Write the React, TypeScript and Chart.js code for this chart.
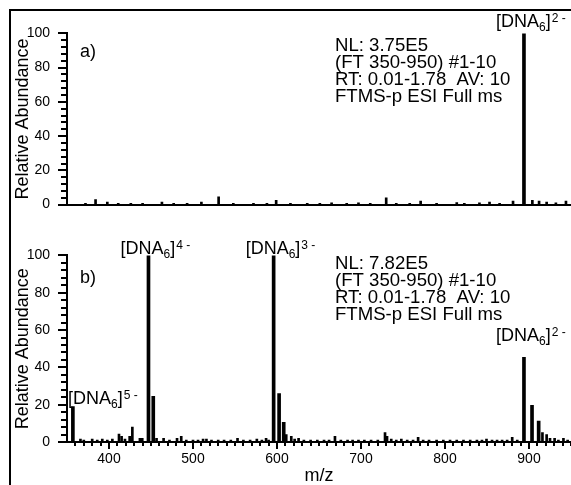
import React, { useEffect, useRef } from 'react';
import { Chart, registerables } from 'chart.js';

Chart.register(...registerables);

const FAM = '"Liberation Sans", Arial, Helvetica, sans-serif';

// axis ranges and ticks
const MZ_MIN = 350;
const MZ_MAX = 950;
const xMajorTicks = [400, 500, 600, 700, 800, 900];
const yMajorTicks = [0, 20, 40, 60, 80, 100];

// ---- panel a) ----
const aMainMz = [894];
const aMainAb = [100];
const aMinorMz = [372, 384, 398, 411, 426, 440, 463, 477, 493, 510, 530.5, 548, 572, 588, 599, 616, 636, 651, 665, 683, 697, 711, 730, 742, 758, 771, 790, 814, 823, 841, 853, 865, 881, 904, 912, 921, 932, 944];
const aMinorAb = [0.8, 3, 1.5, 0.8, 0.8, 0.8, 1.5, 0.8, 0.8, 1.5, 4.5, 0.8, 0.8, 0.8, 2.5, 0.8, 0.8, 0.8, 1, 0.8, 1, 0.8, 4, 0.8, 0.8, 2, 0.8, 1.2, 0.8, 1, 1.5, 0.8, 2, 2.5, 2, 1.5, 1, 2];
const aIonMz = [894];
const aIonCharge = ['2'];
const aIonLabelAb = [103.5];
const aInfo = ['NL: 3.75E5', '(FT 350-950) #1-10', 'RT: 0.01-1.78  AV: 10', 'FTMS-p ESI Full ms'];

// ---- panel b) ----
const bMainMz = [357, 447, 452.7, 596, 602.5, 608, 894, 903.6, 911.5];
const bMainAb = [19, 100, 24.5, 100, 26, 10.5, 45.4, 19.7, 11.2];
const bMinorMz = [366, 370, 380, 386, 392, 398, 404, 411.9, 415, 419, 424.6, 427.8, 436.8, 439.6, 456.6, 465, 472, 481, 486, 492, 500, 506, 512, 516, 522, 530, 537, 545, 553, 560, 568, 576, 582, 587, 590, 611, 617, 621, 625.7, 632, 640, 648, 656, 662, 669, 676, 684, 690, 697, 704, 712, 720, 728.6, 731, 736, 742, 748, 755, 762, 768, 774, 781, 790, 798, 806, 814, 822, 830, 838, 844, 849.4, 856, 862, 868, 874, 880, 886, 916, 921, 925, 930.5, 935, 941, 946];
const bMinorAb = [1.5, 1, 1.5, 1, 1.5, 1, 1.5, 4.2, 3, 1.5, 3, 8, 2, 2, 2, 2, 1, 2, 3, 1, 1, 1, 1.5, 1.5, 1, 1, 1, 1, 2, 1, 1, 1.5, 1, 2, 1, 4, 3, 1.5, 2, 1, 1, 1, 1, 1, 3, 1, 1, 1, 1, 1, 1, 1, 5, 3, 1.5, 1, 1.5, 1, 1, 2.5, 1, 1, 1, 1, 1, 1, 1, 1, 1, 1, 1.5, 1, 1, 1, 1, 2.5, 1, 5, 4, 2, 2, 1, 2, 1];
const bIonMz = [357, 447, 596, 894];
const bIonCharge = ['5', '4', '3', '2'];
const bIonLabelAb = [20.5, 100.5, 100.5, 54];
const bInfo = ['NL: 7.82E5', '(FT 350-950) #1-10', 'RT: 0.01-1.78  AV: 10', 'FTMS-p ESI Full ms'];

const annotPlugin = {
  id: 'annot',
  afterDraw(chart: any, _args: any, o: any) {
    const ctx = chart.ctx;
    const { left, top, bottom } = chart.chartArea;
    const xs = chart.scales.x;
    const ys = chart.scales.y;
    ctx.save();
    ctx.fillStyle = '#000';
    ctx.strokeStyle = '#000';
    ctx.lineWidth = 2;
    // y ticks (major every 20, minor every 4)
    for (let v = 0; v <= 100; v += 4) {
      const py = Math.round(ys.getPixelForValue(v));
      const len = v % 20 === 0 ? 9 : 6;
      ctx.beginPath();
      ctx.moveTo(left - len, py);
      ctx.lineTo(left, py);
      ctx.stroke();
    }
    if (o.showX) {
      for (let m = 360; m <= MZ_MAX; m += 10) {
        const px = Math.round(xs.getPixelForValue(m));
        const len = m % 100 === 0 ? 7 : 4;
        ctx.beginPath();
        ctx.moveTo(px, bottom);
        ctx.lineTo(px, bottom + len);
        ctx.stroke();
      }
    }
    ctx.textBaseline = 'alphabetic';
    ctx.textAlign = 'left';
    ctx.font = `18px ${FAM}`;
    ctx.fillText(o.tag, left + 13, top + o.tagDy);
    ctx.font = `18.6px ${FAM}`;
    o.info.forEach((t: string, i: number) => {
      ctx.fillText(t, left + 268, top + o.infoDy + i * 17);
    });
    o.ionMz.forEach((mz: number, i: number) => {
      let x = xs.getPixelForValue(mz) - 28;
      x = Math.max(x, left + 1);
      const y = ys.getPixelForValue(o.ionLabelAb[i]);
      ctx.font = `18px ${FAM}`;
      ctx.fillText('[DNA', x, y);
      let cx = x + ctx.measureText('[DNA').width;
      ctx.font = `12px ${FAM}`;
      ctx.fillText('6', cx, y + 4);
      cx += ctx.measureText('6').width;
      ctx.font = `18px ${FAM}`;
      ctx.fillText(']', cx, y);
      cx += ctx.measureText(']').width;
      ctx.font = `12px ${FAM}`;
      ctx.fillText(o.ionCharge[i] + ' -', cx + 1, y - 5);
    });
    ctx.restore();
  },
};

function makeChart(canvas: HTMLCanvasElement, p: any) {
  return new Chart(canvas, {
    type: 'bar',
    data: {
      datasets: [
        {
          data: p.mainMz.map((m: number, i: number) => ({ x: m, y: p.mainAb[i] })),
          backgroundColor: '#000',
          borderWidth: 0,
          barThickness: 3,
          grouped: false,
        } as any,
        {
          data: p.minorMz.map((m: number, i: number) => ({ x: m, y: p.minorAb[i] })),
          backgroundColor: '#000',
          borderWidth: 0,
          barThickness: 2,
          grouped: false,
        } as any,
      ],
    },
    options: {
      animation: false,
      responsive: false,
      devicePixelRatio: 1,
      layout: { padding: { top: p.padTop, left: 0, right: 0, bottom: 0 } },
      plugins: {
        legend: { display: false },
        tooltip: { enabled: false },
        annot: {
          showX: p.showX,
          tag: p.tag,
          tagDy: p.tagDy,
          info: p.info,
          infoDy: p.infoDy,
          ionMz: p.ionMz,
          ionCharge: p.ionCharge,
          ionLabelAb: p.ionLabelAb,
        },
      } as any,
      scales: {
        x: {
          type: 'linear',
          min: MZ_MIN,
          max: MZ_MAX,
          offset: false,
          grid: { display: false, drawTicks: false, drawOnChartArea: false },
          border: { display: true, color: '#000', width: 2 },
          ticks: {
            display: p.showX,
            color: '#000',
            font: { size: 14, family: FAM },
            padding: 9,
            maxRotation: 0,
            autoSkip: false,
            callback: (v: any) => String(v),
          },
          afterBuildTicks: (s: any) => {
            s.ticks = xMajorTicks.map((v) => ({ value: v }));
          },
          title: {
            display: p.showX,
            text: 'm/z',
            color: '#000',
            font: { size: 18, family: FAM },
            padding: { top: 0, bottom: 1 },
          },
          afterFit: (s: any) => {
            s.height = p.xHeight;
          },
        } as any,
        y: {
          min: 0,
          max: 100,
          grid: { display: false, drawTicks: false, drawOnChartArea: false },
          border: { display: true, color: '#000', width: 2 },
          ticks: {
            color: '#000',
            font: { size: 14, family: FAM },
            padding: 17,
          },
          afterBuildTicks: (s: any) => {
            s.ticks = yMajorTicks.map((v) => ({ value: v }));
          },
          title: {
            display: true,
            text: 'Relative Abundance',
            color: '#000',
            font: { size: 18, family: FAM },
            padding: { top: 4, bottom: 0 },
          },
          afterFit: (s: any) => {
            s.width = 59;
          },
        } as any,
      },
    },
    plugins: [annotPlugin],
  });
}

export default function App() {
  const refA = useRef<HTMLCanvasElement>(null);
  const refB = useRef<HTMLCanvasElement>(null);

  useEffect(() => {
    document.documentElement.style.overflow = 'hidden';
    document.body.style.overflow = 'hidden';
    document.body.style.marginRight = '0px';
    const ca = makeChart(refA.current!, {
      mainMz: aMainMz, mainAb: aMainAb, minorMz: aMinorMz, minorAb: aMinorAb,
      ionMz: aIonMz, ionCharge: aIonCharge, ionLabelAb: aIonLabelAb, info: aInfo,
      tag: 'a)', tagDy: 24, infoDy: 18, showX: false, padTop: 25, xHeight: 10,
    });
    const cb = makeChart(refB.current!, {
      mainMz: bMainMz, mainAb: bMainAb, minorMz: bMinorMz, minorAb: bMinorAb,
      ionMz: bIonMz, ionCharge: bIonCharge, ionLabelAb: bIonLabelAb, info: bInfo,
      tag: 'b)', tagDy: 28, infoDy: 14, showX: true, padTop: 24, xHeight: 46,
    });
    return () => {
      ca.destroy();
      cb.destroy();
    };
  }, []);

  return (
    <div style={{ position: 'relative', width: 563, height: 477, overflow: 'hidden' }}>
      <div style={{ position: 'absolute', left: 1, top: 1, width: 700, height: 700, border: '2px solid #000' }} />
      <canvas ref={refA} width={563} height={222} style={{ position: 'absolute', left: 0, top: 0, width: 563, height: 222 }} />
      <canvas ref={refB} width={563} height={258} style={{ position: 'absolute', left: 0, top: 222, width: 563, height: 258 }} />
    </div>
  );
}
